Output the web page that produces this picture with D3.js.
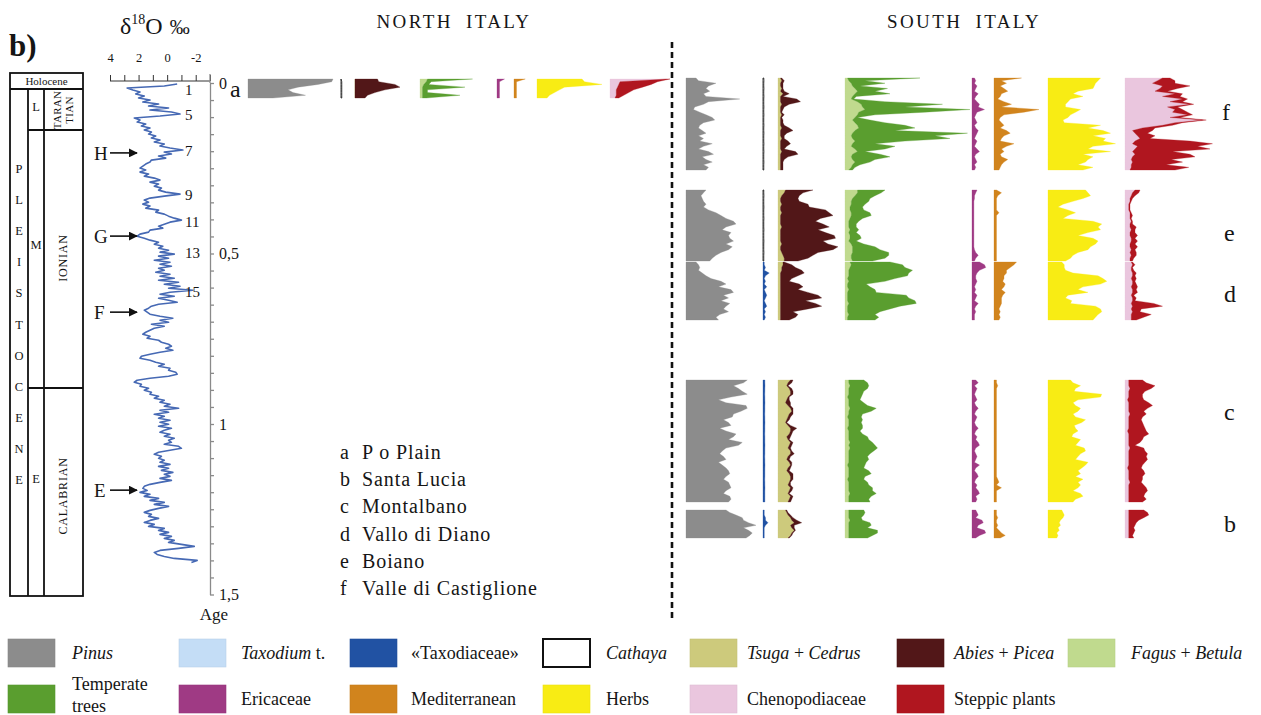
<!DOCTYPE html>
<html><head><meta charset="utf-8">
<script src="https://cdn.jsdelivr.net/npm/d3@7/dist/d3.min.js"></script>
<style>
html,body{margin:0;padding:0;background:#fff;}
svg text{font-family:"Liberation Serif","Times New Roman",serif;fill:#151515;}
</style></head><body>
<svg id="chart" width="1261" height="715"></svg>
<script>
// ---------------- data ----------------
// benthic d18O record (per mil), regular sampling from the top of the core
const d18oStart = 0.003, d18oStep = 0.00587; // Ma
const d18o = [
 -0.7,0.2,2.8,2.4,1.9,2.2,1.6,2.0,1.2,1.7,
 0.6,1.3,-0.1,1.2,-0.3,-0.9,0.5,2.3,1.9,2.1,
 1.5,1.8,1.2,1.6,1.1,1.3,0.8,1.1,0.5,0.9,
 0.2,0.5,-0.2,-1.1,0.2,-0.3,0.6,0.1,1.1,1.2,
 1.5,1.7,1.9,1.5,1.9,1.3,1.6,0.9,0.5,1.2,
 0.6,0.9,0.4,0.6,0.1,-0.9,0.2,1.2,1.6,1.3,
 1.7,1.2,1.5,0.6,0.8,0.2,-0.1,-0.5,-1.0,-0.2,
 0.2,0.6,0.3,1.2,1.3,1.9,2.1,1.6,1.2,0.6,
 0.9,0.3,0.6,-0.1,0.5,-0.5,0.6,-0.1,0.9,-0.2,
 0.5,-0.3,0.6,0.2,0.8,-0.2,0.5,-0.5,0.6,-0.8,
 0.2,-0.9,-0.1,-1.8,-0.2,0.5,-0.5,0.6,-0.1,-0.7,
 0.6,1.1,1.3,1.6,1.4,1.2,0.5,-0.4,0.5,-0.1,
 1.1,0.2,0.9,1.2,1.5,1.7,1.2,1.4,0.6,0.4,
 -0.1,-0.3,0.1,-0.4,0.5,1.2,1.8,1.9,1.2,0.8,
 0.2,0.6,-0.2,-0.1,-0.6,-0.7,-0.1,1.2,2.1,2.3,
 1.8,1.9,1.3,1.6,1.1,1.2,0.6,0.9,0.2,0.5,
 -0.2,0.2,-0.8,0.5,-0.1,0.9,0.2,0.6,-0.2,0.5,
 -0.1,0.6,-0.3,0.2,0.5,-0.2,0.2,-0.5,-0.1,-0.3,
 0.2,-0.8,-1.0,-0.2,0.6,0.9,0.4,0.6,0.2,0.5,
 -0.2,0.6,-0.1,0.4,-0.4,0.2,-0.2,0.5,-0.3,0.5,
 1.2,1.6,1.7,1.4,1.9,1.2,1.6,0.6,1.2,0.2,
 0.9,-0.1,0.6,1.2,1.6,1.1,1.3,0.6,1.2,1.6,
 0.9,1.3,0.2,0.6,-0.1,0.5,-0.3,0.2,-0.5,-0.1,
 -1.0,-1.9,-0.8,0.5,0.9,0.7,0.2,-0.5,-2.1,-1.7
];
const d18oTicks = [4,3,2,1,0,-1,-2,-3];
const d18oTickLabels = [4,2,0,-2];

// marine isotope stages and glacial events
const misNames = ["1","5","7","9","11","13","15"];
const misAges  = [0.021,0.094,0.2,0.328,0.408,0.499,0.613];
const eventNames = ["H","G","F","E"];
const eventAges  = [0.205,0.449,0.672,1.194];

// age axis (Ma)
const ageMajor = [0,0.5,1,1.5];

// pollen percentages, samples listed from top to bottom of each record
const siteA = { // Po Plain
 pinus:[68,67,56,40,32,36,46,20],
 cathaya:[0,0.6,0.6,0.6,0.6,0.6,0.6,0.6],
 tsuga:[0,0,0,0,0,0,0,0],
 abies:[18,19,32,36,24,16,10,8],
 fagus:[6,5,3,2,2,2,2,2],
 temperate:[36,4,4,34,4,4,30,3],
 ericaceae:[6,2,2,2,2,2,2,2],
 mediterranean:[9,2,2,2,2,2,2,2],
 herbs:[36,38,52,22,18,14,10,8],
 cheno:[46,8,7,6,5,5,5,4],
 steppic:[2,30,26,20,14,10,6,3]
};
const siteF = { // Valle di Castiglione
 pinus:[8,10,24,18,16,19,14,16,43,18,14,7,6,11,16,21,23,14,11,10,13,16,10,14,11,21,14,10,18,22,13,16,21,14,18,16],
 cathaya:[0.6,0.7,0.6,0.6,0.7,0.6,0.6,0.7,0.6,0.6,0.6,0.7,0.6,0.6,0.7,0.6,0.6,0.6,0.7,0.6,0.6,0.7,0.6,0.6,0.6,0.7,0.6,0.6,0.7,0.6,0.6,0.6,0.7,0.6,0.6,0.6],
 tsuga:[2,3,2,2,3,2,4,2,2,2,3,2,2,2,3,2,2,2,2,3,2,2,2,3,2,2,2,2,3,2,2,2,2,2,2,2],
 abies:[1,2,2,2,1,3,5,2,13,16,6,3,2,1,2,1,2,2,3,6,10,5,3,2,6,8,5,3,11,14,6,3,2,2,2,2],
 fagus:[2,3,5,6,8,10,8,6,5,10,13,14,16,11,10,8,6,8,10,11,8,6,5,6,8,6,5,8,10,6,5,6,8,6,5,3],
 temperate:[58,13,27,6,26,14,28,3,2,22,65,34,84,53,14,2,14,24,38,45,32,92,67,78,40,18,35,24,6,22,31,18,12,6,3,3],
 ericaceae:[2,3,2,4,3,2,5,3,2,4,6,5,10,4,3,2,3,4,2,3,5,4,3,2,4,3,2,4,6,3,2,3,4,2,3,2],
 mediterranean:[22,6,10,5,8,11,6,5,3,8,14,6,36,24,8,5,4,6,8,5,10,13,8,6,5,16,10,6,8,5,6,11,8,6,5,4],
 herbs:[42,40,38,37,36,24,20,28,18,16,14,14,26,22,18,16,12,13,42,32,44,50,36,46,44,54,36,32,50,28,36,32,30,24,36,28],
 cheno:[30,26,22,30,28,24,40,30,46,36,52,34,40,38,50,36,62,40,30,14,6,8,10,12,8,6,10,8,6,8,6,5,6,5,5,4],
 steppic:[6,14,18,22,14,10,6,14,4,10,3,8,6,12,4,8,3,6,8,10,16,10,14,8,44,64,48,60,32,44,50,32,40,28,46,36]
};
const siteE = { // Boiano
 pinus:[16,14,12,13,14,16,14,18,24,28,32,38,40,32,29,36,34,35,38,32,37,34,28,24,21,19],
 cathaya:[0.6,0.6,0.7,0.6,0.6,0.6,0.7,0.6,0.6,0.6,0.7,0.6,0.6,0.6,0.7,0.6,0.6,0.6,0.7,0.6,0.6,0.6,0.7,0.6,0.6,0.6],
 tsuga:[6,5,3,2,2,3,2,2,3,2,2,2,2,3,2,2,2,2,2,3,2,2,3,4,5,5],
 abies:[22,15,14,14,15,21,23,36,38,42,32,28,34,38,30,36,43,44,34,37,46,42,29,24,19,11],
 fagus:[10,10,8,6,5,5,4,4,5,5,4,3,3,3,4,3,4,4,3,5,6,6,6,5,5,6],
 temperate:[22,19,16,14,14,11,10,11,15,16,10,8,6,6,7,6,8,9,6,10,18,22,29,30,27,16],
 ericaceae:[4,3,2,2,1.5,1.5,1.5,1.5,1.5,1.5,1.5,1.5,1.5,1.5,1.5,1.5,1.5,1.5,1.5,1.5,1.5,2,3,5,3,2],
 mediterranean:[2,6,3,2,2,2,2,2,4,2,2,2,2,2,2,2,2,2,2,2,2,2,2,2,2,2],
 herbs:[30,32,34,28,20,12,8,16,22,16,12,36,43,40,42,32,24,36,40,38,34,32,24,20,18,14],
 cheno:[8,6,5,4,4,3,3,3,4,4,4,5,4,4,5,4,4,5,5,4,4,5,4,5,4,4],
 steppic:[4,5,3,2,1,1,1,1,1,2,1,1,2,5,3,4,6,3,5,4,6,3,5,4,3,2]
};
const siteD = { // Vallo di Diano
 pinus:[8,10,11,10,13,16,20,28,32,26,36,38,30,34,28,35,32,30,34,27,24,26],
 taxodiaceae:[1,1,2,1,5,2,1,2,1,3,1,2,3,2,1,2,3,1,2,1,2,1],
 tsuga:[4,4,3,3,2,2,2,2,2,2,2,2,2,2,2,2,2,2,2,2,2,2],
 abies:[1,7,11,16,19,14,9,7,15,18,14,22,30,33,20,28,33,22,10,14,12,7],
 fagus:[4,5,4,3,3,3,2,3,2,2,3,2,2,2,2,3,2,2,2,3,2,2],
 temperate:[32,41,44,51,48,47,38,29,15,18,21,23,47,49,54,54,42,34,26,21,25,22],
 ericaceae:[6,10,11,6,4,3,3,4,3,2,3,2,4,3,2,5,3,2,3,2,2,2],
 mediterranean:[18,16,13,10,10,8,8,7,9,8,6,9,7,6,6,6,5,4,5,4,5,4],
 herbs:[11,13,13,14,20,40,44,47,42,28,24,32,16,14,19,18,38,42,43,40,38,36],
 cheno:[5,6,5,5,6,6,5,6,6,5,6,6,5,6,6,5,6,5,6,5,5,5],
 steppic:[1,2,1,2,3,2,4,2,3,5,3,4,2,3,2,18,24,8,6,16,10,4]
};
const siteC = { // Montalbano
 pinus:[49,46,38,42,45,49,36,26,32,48,49,44,38,37,30,34,36,27,32,40,38,34,45,42,32,29,27,30,32,26,29,32,34,35,32,30,34,35,36,32,30,35,36,34],
 taxodiaceae:[1.5,1.5,1.6,1.5,1.5,1.4,1.5,1.5,1.6,1.5,1.5,1.5,1.4,1.5,1.5,1.6,1.5,1.5,1.5,1.4,1.5,1.5,1.5,1.6,1.5,1.5,1.5,1.4,1.5,1.5,1.6,1.5,1.5,1.5,1.5,1.4,1.5,1.5,1.6,1.5,1.5,1.5,1.5,1.5],
 tsuga:[10,8,7,9,10,10,8,7,6,8,10,11,9,8,7,6,8,10,10,9,7,8,10,9,8,10,10,8,7,9,10,8,7,9,10,10,9,8,10,9,8,10,9,8],
 abies:[2,3,1,2,2,2,1,2,4,2,2,1,3,2,2,1,2,5,2,2,3,1,2,2,2,1,3,2,2,2,1,2,2,3,2,2,1,2,2,2,1,2,2,2],
 fagus:[3,3,4,3,3,3,2,3,3,3,4,3,3,2,3,3,3,2,3,3,3,3,4,3,4,3,3,3,3,3,2,3,3,3,3,2,3,3,3,3,4,3,3,3],
 temperate:[12,15,15,15,12,11,11,9,12,15,21,18,11,11,11,10,11,12,9,11,15,16,18,21,22,20,17,15,16,14,14,12,16,18,13,13,15,16,19,19,21,18,16,17],
 ericaceae:[3,5,2,4,3,2,3,4,2,3,5,3,2,4,3,2,3,5,3,2,4,3,5,6,3,2,3,4,3,2,6,3,2,4,5,3,2,4,3,5,6,3,4,3],
 mediterranean:[2,2,3,2,2,2,2,2,2,2,2,2,2,2,2,2,2,2,2,2,2,2,2,2,2,2,2,2,2,2,2,2,2,2,2,3,4,2,6,2,2,2,2,2],
 herbs:[18,20,26,22,21,43,42,24,20,22,26,24,20,22,30,27,21,22,24,20,19,26,24,22,29,30,26,24,22,32,30,27,24,26,22,28,24,26,24,20,26,28,22,20],
 cheno:[3,3,3,4,3,3,3,2,3,3,3,3,4,3,3,3,3,3,2,3,3,3,3,3,4,3,3,3,3,3,3,2,3,3,3,3,4,3,3,3,3,3,3,3],
 steppic:[11,14,21,17,13,11,11,13,16,19,15,12,13,11,10,11,12,13,15,16,12,11,9,5,11,13,15,14,15,13,11,11,12,13,11,11,9,12,14,15,13,12,14,11]
};
const siteB = { // Santa Lucia
 pinus:[32,35,40,45,46,50,56,46,50,53,51,48],
 taxodiaceae:[1,1,1,2,2,4,2,1,1,1,1,1],
 tsuga:[6,7,8,10,11,13,10,11,13,11,10,8],
 abies:[1,1,2,2,4,6,3,2,1,1,1,1],
 fagus:[3,3,3,3,4,3,3,3,3,3,3,3],
 temperate:[12,13,12,10,10,17,18,15,23,23,19,15],
 ericaceae:[3,4,5,3,8,9,5,4,10,11,6,3],
 mediterranean:[2,2,2,3,2,2,3,2,4,6,9,5],
 herbs:[11,12,13,12,10,9,10,8,9,7,8,7],
 cheno:[3,3,3,3,3,3,3,3,3,3,3,3],
 steppic:[12,15,16,12,8,6,5,4,5,4,3,4]
};

const siteCodes = ["a","b","c","d","e","f"];
const siteNames = ["P o Plain","Santa Lucia","Montalbano","Vallo di Diano","Boiano","Valle di Castiglione"];

const taxonColor = {
 pinus:"#8c8c8c", taxodium:"#c4ddf6", taxodiaceae:"#2152a3", cathaya:"#ffffff",
 tsuga:"#cdca7c", abies:"#521718", fagus:"#c0da8e", temperate:"#5a9e2f",
 ericaceae:"#9f3a84", mediterranean:"#d1841d", herbs:"#f8ec14",
 cheno:"#eac6de", steppic:"#b0161f"
};
const legendRow1 = [
 {key:"pinus", parts:[["Pinus",1]]},
 {key:"taxodium", parts:[["Taxodium",1],[" t.",0]]},
 {key:"taxodiaceae", parts:[["«Taxodiaceae»",0]]},
 {key:"cathaya", parts:[["Cathaya",1]]},
 {key:"tsuga", parts:[["Tsuga",1],[" + ",0],["Cedrus",1]]},
 {key:"abies", parts:[["Abies",1],[" + ",0],["Picea",1]]},
 {key:"fagus", parts:[["Fagus",1],[" + ",0],["Betula",1]]}
];
const legendRow2 = [
 {key:"temperate", lines:["Temperate","trees"]},
 {key:"ericaceae", parts:[["Ericaceae",0]]},
 {key:"mediterranean", parts:[["Mediterranean",0]]},
 {key:"herbs", parts:[["Herbs",0]]},
 {key:"cheno", parts:[["Chenopodiaceae",0]]},
 {key:"steppic", parts:[["Steppic plants",0]]}
];

// ---------------- drawing ----------------
const svg = d3.select("#chart");
const ageScale = d3.scaleLinear().domain([0, 1.5]).range([83, 594.5]);
const dScale = d3.scaleLinear().domain([4, -3]).range([110, 210]);
const pctScale = d3.scaleLinear().domain([0, 100]).range([0, 125]);

// panel label
svg.append("text").attr("x", 9).attr("y", 56).attr("font-size", 31)
  .attr("font-weight", "bold").text("b)");

// d18O heading
const hd = svg.append("text").attr("x", 120).attr("y", 34).attr("font-size", 24);
hd.append("tspan").text("δ");
hd.append("tspan").attr("font-size", 14).attr("dy", -10).text("18");
hd.append("tspan").attr("dy", 10).text("O");
hd.append("tspan").attr("font-size", 20).attr("dx", 7).text("‰");

// chronostratigraphic table
const tbl = svg.append("g").attr("fill", "none").attr("stroke", "#111").attr("stroke-width", 1.8);
tbl.append("rect").attr("x", 10).attr("y", 73).attr("width", 73).attr("height", 523);
[[10,89,83,89],[28,89,28,596],[44,89,44,596],[28,130,83,130],[28,388,83,388]]
  .forEach(l => tbl.append("line").attr("x1", l[0]).attr("y1", l[1]).attr("x2", l[2]).attr("y2", l[3]));
svg.append("text").attr("x", 46.5).attr("y", 85).attr("font-size", 11).attr("text-anchor", "middle").text("Holocene");
"PLEISTOCENE".split("").forEach((c, i) =>
  svg.append("text").attr("x", 19).attr("y", 173 + i * 31.1).attr("font-size", 12.5)
    .attr("text-anchor", "middle").text(c));
[["L",111],["M",249],["E",483]].forEach(s =>
  svg.append("text").attr("x", 36).attr("y", s[1]).attr("font-size", 12.5).attr("text-anchor", "middle").text(s[0]));
const rot = (x, y, t, fs, ls) => svg.append("text")
  .attr("transform", `translate(${x},${y}) rotate(-90)`).attr("font-size", fs)
  .attr("letter-spacing", ls).attr("text-anchor", "middle").text(t);
rot(61, 110, "TARAN", 11, 0.3);
rot(73, 110, "TIAN", 11, 0.3);
rot(67, 258, "IONIAN", 12, 0.8);
rot(67, 496, "CALABRIAN", 12, 0.8);

// d18O axis (top)
const topAxis = d3.axisTop(dScale).tickValues(d18oTicks).tickSize(6).tickPadding(13)
  .tickFormat(d => d18oTickLabels.includes(d) ? String(d) : "");
const gTop = svg.append("g").attr("transform", "translate(0,81)").call(topAxis);
gTop.select(".domain").attr("stroke", "#333").attr("d", "M110,0H210");
gTop.selectAll(".tick line").attr("stroke", "#333");
gTop.selectAll("text").attr("font-size", 12.5).attr("font-family", "Liberation Serif").attr("fill", "#151515");

// age axis
const ageAxis = d3.axisRight(ageScale).tickValues(d3.range(0, 1.5001, 0.05)).tickSize(4).tickSizeOuter(0)
  .tickPadding(5)
  .tickFormat(d => ageMajor.some(m => Math.abs(m - d) < 1e-6) ? String(+d.toFixed(2)).replace(".", ",") : "");
const gAge = svg.append("g").attr("transform", "translate(210,0)").call(ageAxis);
gAge.select(".domain").attr("stroke", "#8a8a8a").attr("stroke-width", 1.3);
gAge.selectAll(".tick line").attr("stroke", "#8a8a8a").attr("stroke-width", 1.3);
gAge.selectAll("text").attr("font-size", 16).attr("font-family", "Liberation Serif").attr("fill", "#151515");
svg.append("line").attr("x1", 210).attr("x2", 210).attr("y1", 74).attr("y2", 83)
  .attr("stroke", "#8a8a8a").attr("stroke-width", 1.3);
svg.append("text").attr("x", 214).attr("y", 620).attr("font-size", 17).attr("text-anchor", "middle").text("Age");

// d18O curve
const d18oLine = d3.line()
  .x(d => dScale(d))
  .y((d, i) => ageScale(d18oStart + i * d18oStep));
svg.append("path").datum(d18o).attr("d", d18oLine).attr("fill", "none")
  .attr("stroke", "#4669b4").attr("stroke-width", 1.6).attr("stroke-linejoin", "round");

// MIS numbers
misNames.forEach((m, i) =>
  svg.append("text").attr("x", dScale(-1.25)).attr("y", ageScale(misAges[i])).attr("dy", "0.35em")
    .attr("font-size", 15).text(m));

// event arrows
const defs = svg.append("defs");
defs.append("marker").attr("id", "arrowHead").attr("viewBox", "0 0 10 10").attr("refX", 9).attr("refY", 5)
  .attr("markerWidth", 9).attr("markerHeight", 9).attr("markerUnits", "userSpaceOnUse").attr("orient", "auto")
  .append("path").attr("d", "M0,0L10,5L0,10Z").attr("fill", "#111");
eventNames.forEach((e, i) => {
  const y = ageScale(eventAges[i]);
  svg.append("text").attr("x", 94).attr("y", y).attr("dy", "0.35em").attr("font-size", 19).text(e);
  svg.append("line").attr("x1", 110).attr("x2", 137).attr("y1", y).attr("y2", y)
    .attr("stroke", "#111").attr("stroke-width", 1.6).attr("marker-end", "url(#arrowHead)");
});

// section titles and divider
svg.append("text").attr("x", 454).attr("y", 28).attr("font-size", 19).attr("text-anchor", "middle")
  .attr("letter-spacing", 2.4).attr("word-spacing", 6).text("NORTH ITALY");
svg.append("text").attr("x", 964).attr("y", 28).attr("font-size", 19).attr("text-anchor", "middle")
  .attr("letter-spacing", 2.4).attr("word-spacing", 6).text("SOUTH ITALY");
svg.append("line").attr("x1", 672).attr("x2", 672).attr("y1", 42).attr("y2", 621)
  .attr("stroke", "#111").attr("stroke-width", 2.6).attr("stroke-dasharray", "6,4");

// pollen records
const northCols = {pinus:248, thin:341, conifer:355, trees:420, ericaceae:497, mediterranean:514, herbs:537, steppe:610};
const southCols = {pinus:686, thin:763, conifer:778, trees:845, ericaceae:972, mediterranean:994, herbs:1048, steppe:1125};

function drawSite(site, cols, y0, y1) {
  const n = site.pinus.length;
  const y = d3.scaleLinear().domain([0, n - 1]).range([y0, y1]);
  const g = svg.append("g");
  const zero = site.pinus.map(() => 0);
  const band = (vals, base, color, under, stroke) => {
    const off = under || zero;
    const area = d3.area()
      .x0((d, i) => base + pctScale(off[i]))
      .x1((d, i) => base + pctScale(off[i] + d))
      .y((d, i) => y(i));
    g.append("path").datum(vals).attr("d", area).attr("fill", color)
      .attr("stroke", stroke || color).attr("stroke-width", stroke ? 0.9 : 0.3);
  };
  band(site.pinus, cols.pinus, taxonColor.pinus);
  if (site.cathaya) band(site.cathaya, cols.thin, taxonColor.cathaya, null, "#222");
  if (site.taxodiaceae) band(site.taxodiaceae, cols.thin, taxonColor.taxodiaceae);
  band(site.tsuga, cols.conifer, taxonColor.tsuga);
  band(site.abies, cols.conifer, taxonColor.abies, site.tsuga);
  band(site.fagus, cols.trees, taxonColor.fagus);
  band(site.temperate, cols.trees, taxonColor.temperate, site.fagus);
  band(site.ericaceae, cols.ericaceae, taxonColor.ericaceae);
  band(site.mediterranean, cols.mediterranean, taxonColor.mediterranean);
  band(site.herbs, cols.herbs, taxonColor.herbs);
  band(site.cheno, cols.steppe, taxonColor.cheno);
  band(site.steppic, cols.steppe, taxonColor.steppic, site.cheno);
}
drawSite(siteA, northCols, 79, 98);
drawSite(siteF, southCols, 78, 170);
drawSite(siteE, southCols, 190, 261);
drawSite(siteD, southCols, 262, 320);
drawSite(siteC, southCols, 380, 502);
drawSite(siteB, southCols, 510, 538);

// record letters
[["a",230,97],["f",1222,120],["e",1224,241],["d",1224,302],["c",1224,420],["b",1224,532]]
  .forEach(s => svg.append("text").attr("x", s[1]).attr("y", s[2]).attr("font-size", 24).text(s[0]));

// site key
siteCodes.forEach((c, i) => {
  const yy = 459 + i * 27.2;
  svg.append("text").attr("x", 340).attr("y", yy).attr("font-size", 20).text(c);
  svg.append("text").attr("x", 362).attr("y", yy).attr("font-size", 20).attr("letter-spacing", 0.9).text(siteNames[i]);
});

// legend
const legX = [8, 179, 350, 543, 690, 897, 1068];
const legLabelX = [72, 241, 411, 606, 747, 954, 1131];
function legendItem(item, col, top) {
  const fill = taxonColor[item.key];
  svg.append("rect").attr("x", legX[col]).attr("y", top).attr("width", 47).attr("height", 28)
    .attr("fill", fill)
    .attr("stroke", item.key === "cathaya" ? "#111" : d3.color(fill).darker(0.15))
    .attr("stroke-width", item.key === "cathaya" ? 2 : 0.6);
  if (item.lines) {
    item.lines.forEach((t, k) => svg.append("text").attr("x", legLabelX[col]).attr("y", top + 5 + k * 22)
      .attr("font-size", 18).text(t));
  } else {
    const t = svg.append("text").attr("x", legLabelX[col]).attr("y", top + 20).attr("font-size", 18);
    item.parts.forEach(p => t.append("tspan").attr("font-style", p[1] ? "italic" : "normal").text(p[0]));
  }
}
legendRow1.forEach((it, i) => legendItem(it, i, 639));
legendRow2.forEach((it, i) => legendItem(it, i, 685));
</script></body></html>
